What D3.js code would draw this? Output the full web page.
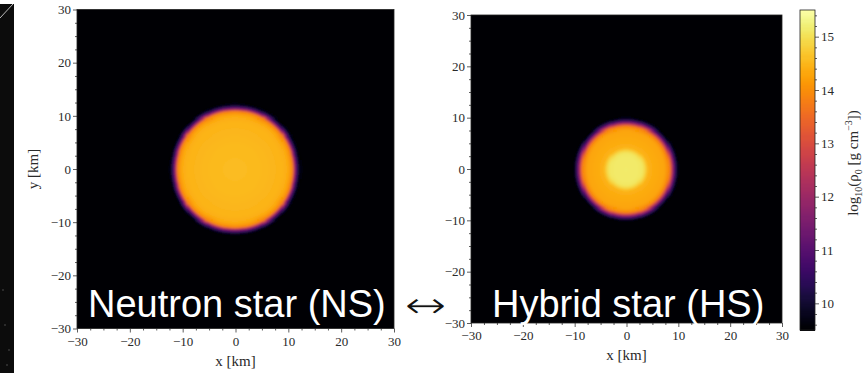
<!DOCTYPE html>
<html><head><meta charset="utf-8">
<script src="https://cdn.jsdelivr.net/npm/d3@7"></script>
<style>html,body{margin:0;padding:0;background:#fff;}svg{display:block;}</style>
</head><body>
<script>
// ---- data ----
const axisTicks = [-30, -20, -10, 0, 10, 20, 30];
const cbarTicks = [10, 11, 12, 13, 14, 15];
const cbarDomain = [9.5, 15.5];
// radial density profiles: radius [km] -> log10(rho0)
const nsRadius = [0, 5, 9, 10, 10.9, 11.15, 11.4, 11.7, 12.1, 12.5];
const nsLogRho = [14.58, 14.54, 14.47, 14.37, 13.9, 12.8, 11.8, 10.8, 9.9, 9.5];
const hsRadius = [0, 3.0, 3.6, 4.2, 5.0, 7.5, 8.3, 8.7, 9.0, 9.3, 9.7, 10.1];
const hsLogRho = [15.15, 15.12, 14.9, 14.48, 14.4, 14.3, 13.9, 12.9, 11.8, 10.9, 10.0, 9.5];
const panelLabels = ["Neutron star (NS)", "Hybrid star (HS)"];
const xLabel = "x [km]", yLabel = "y [km]";

const W = 867, H = 373;
const svg = d3.select("body").append("svg").attr("width", W).attr("height", H);
svg.append("rect").attr("width", W).attr("height", H).attr("fill", "#fff");

// left photo strip
svg.append("rect").attr("x", 0).attr("y", 4).attr("width", 14).attr("height", H - 4).attr("fill", "#0c0c0c");
svg.append("line").attr("x1", 0).attr("y1", 18).attr("x2", 13).attr("y2", 4).attr("stroke", "#bbb").attr("stroke-width", 1);
[[5, 325], [9, 350], [3, 290], [7, 365]].forEach(p => svg.append("circle").attr("cx", p[0]).attr("cy", p[1]).attr("r", 0.8).attr("fill", "#555"));

const color = d3.scaleSequential(d3.interpolateInferno).domain(cbarDomain);
const serif = "'Liberation Serif', 'DejaVu Serif', serif";

const defs = svg.append("defs");
defs.append("filter").attr("id", "soft").attr("x", "-10%").attr("y", "-10%").attr("width", "120%").attr("height", "120%")
  .append("feGaussianBlur").attr("stdDeviation", 0.8);

const panels = [
  {x0: 77, x1: 394, y0: 9.5, y1: 328.5, r: nsRadius, v: nsLogRho, ylab: true, lx: 88},
  {x0: 471, x1: 782, y0: 15, y1: 323, r: hsRadius, v: hsLogRho, ylab: false, lx: 492}
];

const fmt = d => (d < 0 ? "\u2212" + Math.abs(d) : "" + d);
const minorTicks = d3.range(-30, 30.01, 2.5).filter(d => axisTicks.indexOf(d) < 0);

panels.forEach((p, i) => {
  const x = d3.scaleLinear().domain([-30, 30]).range([p.x0, p.x1]);
  const y = d3.scaleLinear().domain([-30, 30]).range([p.y1, p.y0]);
  const prof = d3.scaleLinear().domain(p.r).range(p.v).clamp(true);
  const g = svg.append("g");
  g.append("rect").attr("x", p.x0).attr("y", p.y0).attr("width", p.x1 - p.x0).attr("height", p.y1 - p.y0)
    .attr("fill", color(cbarDomain[0]));
  const step = 0.2;
  const cells = [];
  for (let cx = -14; cx < 14; cx += step) {
    for (let cy = -14; cy < 14; cy += step) {
      const rr = Math.hypot(cx + step / 2, cy + step / 2);
      const val = prof(rr);
      if (val > 9.52) cells.push({cx, cy, val});
    }
  }
  const hm = g.append("g").attr("filter", "url(#soft)").attr("shape-rendering", "crispEdges");
  hm.selectAll("rect").data(cells).join("rect")
    .attr("x", d => Math.floor(x(d.cx))).attr("y", d => Math.floor(y(d.cy + step)))
    .attr("width", d => Math.ceil(x(d.cx + step)) - Math.floor(x(d.cx)))
    .attr("height", d => Math.ceil(y(d.cy)) - Math.floor(y(d.cy + step)))
    .attr("fill", d => color(d.val));

  // axes
  const ax = g.append("g").attr("transform", `translate(0,${p.y1})`)
    .call(d3.axisBottom(x).tickValues(axisTicks).tickFormat(fmt).tickSize(4).tickPadding(4));
  ax.append("g").call(d3.axisBottom(x).tickValues(minorTicks).tickFormat("").tickSize(2));
  const ay = g.append("g").attr("transform", `translate(${p.x0},0)`)
    .call(d3.axisLeft(y).tickValues(axisTicks).tickFormat(fmt).tickSize(4).tickPadding(2));
  ay.append("g").call(d3.axisLeft(y).tickValues(minorTicks).tickFormat("").tickSize(2));
  [ax, ay].forEach(a => {
    a.selectAll(".domain").remove();
    a.selectAll("line").attr("stroke", "#333").attr("stroke-width", 0.8);
    a.selectAll("text").attr("font-family", serif).attr("font-size", 13).attr("fill", "#2a2a2a");
  });
  g.append("rect").attr("x", p.x0).attr("y", p.y0).attr("width", p.x1 - p.x0).attr("height", p.y1 - p.y0)
    .attr("fill", "none").attr("stroke", "#222").attr("stroke-width", 0.8);

  g.append("text").attr("x", (p.x0 + p.x1) / 2).attr("y", p.y1 + 37).attr("text-anchor", "middle")
    .attr("font-family", serif).attr("font-size", 15).attr("fill", "#2a2a2a").text(xLabel);
  if (p.ylab) {
    g.append("text").attr("transform", `translate(38,${(p.y0 + p.y1) / 2}) rotate(-90)`).attr("text-anchor", "middle")
      .attr("font-family", serif).attr("font-size", 15).attr("fill", "#2a2a2a").text(yLabel);
  }
  g.append("text").attr("x", p.lx).attr("y", 317).attr("font-family", "'Liberation Sans', Arial, sans-serif")
    .attr("font-size", 38).attr("fill", "#fff").text(panelLabels[i]);
});

// arrow
svg.append("text").attr("x", 404).attr("y", 318).attr("font-family", "'DejaVu Sans', sans-serif")
  .attr("font-size", 38).attr("textLength", 43).attr("lengthAdjust", "spacingAndGlyphs")
  .attr("fill", "#111").attr("stroke", "#fff").attr("stroke-width", 1.1)
  .attr("paint-order", "fill").text("\u2194");

// colorbar
const cb = {x0: 800, x1: 815, y0: 10, y1: 330};
const cy = d3.scaleLinear().domain(cbarDomain).range([cb.y1, cb.y0]);
const cbSteps = d3.range(cbarDomain[0], cbarDomain[1], 0.02);
svg.append("g").attr("shape-rendering", "crispEdges").selectAll("rect").data(cbSteps).join("rect")
  .attr("x", cb.x0).attr("width", cb.x1 - cb.x0)
  .attr("y", d => cy(d + 0.02)).attr("height", d => cy(d) - cy(d + 0.02) + 0.5)
  .attr("fill", d => color(d + 0.01));
svg.append("rect").attr("x", cb.x0).attr("y", cb.y0).attr("width", cb.x1 - cb.x0).attr("height", cb.y1 - cb.y0)
  .attr("fill", "none").attr("stroke", "#222").attr("stroke-width", 0.8);
const cbMinor = d3.range(9.6, 15.45, 0.2).map(d => Math.round(d * 10) / 10).filter(d => cbarTicks.indexOf(d) < 0);
const cax = svg.append("g").attr("transform", `translate(${cb.x1},0)`)
  .call(d3.axisRight(cy).tickValues(cbarTicks).tickFormat(d3.format("d")).tickSize(4).tickPadding(2));
cax.append("g").call(d3.axisRight(cy).tickValues(cbMinor).tickFormat("").tickSize(2));
cax.selectAll(".domain").remove();
cax.selectAll("line").attr("stroke", "#333").attr("stroke-width", 0.8);
cax.selectAll("text").attr("font-family", serif).attr("font-size", 13).attr("fill", "#2a2a2a");

const lab = svg.append("text").attr("transform", "translate(858,163) rotate(-90)").attr("text-anchor", "middle")
  .attr("font-family", serif).attr("font-size", 15).attr("fill", "#2a2a2a");
lab.append("tspan").text("log");
lab.append("tspan").attr("font-size", 10).attr("dy", 4).text("10");
lab.append("tspan").attr("dy", -4).text("(\u03c1");
lab.append("tspan").attr("font-size", 10).attr("dy", 4).text("0");
lab.append("tspan").attr("dy", -4).text(" [g cm");
lab.append("tspan").attr("font-size", 10).attr("dy", -6).text("\u22123");
lab.append("tspan").attr("dy", 6).text("])");
</script>
</body></html>
